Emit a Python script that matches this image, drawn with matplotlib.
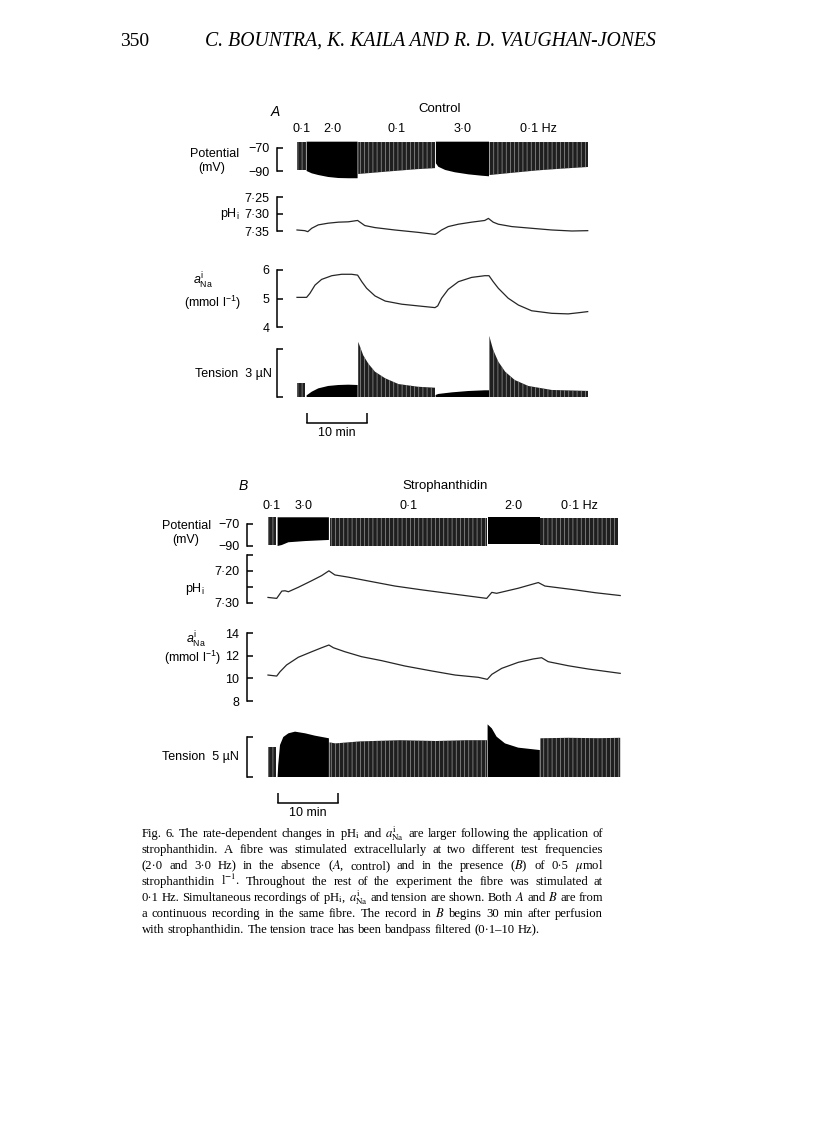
import numpy as np
import matplotlib.pyplot as plt
from matplotlib import transforms

plt.rcParams['font.family'] = 'Liberation Sans'
plt.rcParams['mathtext.fontset'] = 'custom'
plt.rcParams['mathtext.rm'] = 'Liberation Sans'
plt.rcParams['mathtext.it'] = 'Liberation Sans:italic'
plt.rcParams['mathtext.bf'] = 'Liberation Sans:bold'
plt.rcParams['hatch.linewidth'] = 0.5

W, H = 816, 1146

# ---------------- data (time in min) ----------------
# panel A, control
A_RATES = ['0·1', '2·0', '0·1', '3·0', '0·1 Hz']
A_POT_T = [[0.0, 1.45], [1.6, 2.45, 3.55, 5.2, 6.9, 8.55, 10.1], [10.2, 15.0, 20.0, 23.0],
           [23.15, 23.55, 24.7, 26.3, 28.55, 30.8, 32.0], [32.1, 36.0, 40.0, 44.0, 48.5]]
A_POT_REST = [[-89.0, -89.0], [-90.0, -92.0, -93.5, -95.2, -96.1, -96.3, -96.3], [-92.6, -90.5, -88.4, -87.5],
              [-83.3, -86.3, -89.1, -91.1, -92.9, -94.1, -94.6], [-93.5, -91.5, -89.5, -88.0, -86.5]]
A_POT_PEAK = [-64.5, -64.5, -64.8, -64.5, -64.8]

A_PH_T = [0, 1.3, 1.8, 2.45, 3.55, 5.2, 6.9, 8.55, 10.1, 10.5, 11.3, 13.0, 16.3, 20.2, 23.0, 23.3,
          24.1, 25.2, 26.9, 29.1, 31.3, 31.9, 32.7, 33.55, 35.8, 39.1, 42.45, 45.8, 48.45]
A_PH = [7.347, 7.349, 7.352, 7.342, 7.332, 7.327, 7.324, 7.323, 7.319, 7.324, 7.334, 7.340, 7.347, 7.354,
        7.360, 7.357, 7.347, 7.337, 7.330, 7.324, 7.319, 7.313, 7.324, 7.330, 7.337, 7.342, 7.347, 7.350, 7.349]

A_NA_T = [0, 1.6, 2.15, 3.0, 4.1, 5.8, 7.45, 9.1, 10.1, 10.8, 11.6, 13.0, 14.7, 17.45, 20.2, 23.0,
          23.45, 24.1, 25.2, 26.9, 29.1, 31.3, 32.0, 32.7, 33.55, 35.2, 36.9, 39.1, 42.45, 45.2, 46.9, 48.45]
A_NA = [5.04, 5.04, 5.18, 5.47, 5.67, 5.80, 5.85, 5.85, 5.82, 5.59, 5.36, 5.09, 4.91, 4.80, 4.74, 4.68,
        4.74, 5.01, 5.32, 5.59, 5.74, 5.80, 5.80, 5.59, 5.36, 5.01, 4.77, 4.57, 4.48, 4.46, 4.50, 4.54]

A_TEN_T = [[0.0, 1.4], [1.6, 2.45, 3.55, 5.2, 6.9, 8.55, 10.1],
           [10.2, 11.05, 11.9, 13.0, 14.7, 16.9, 20.2, 23.0],
           [23.1, 23.55, 25.8, 28.55, 31.3, 32.0],
           [32.05, 32.7, 33.55, 34.7, 36.3, 38.55, 42.45, 48.5]]
A_TEN = [[0.9, 0.9], [0.1, 0.33, 0.54, 0.69, 0.75, 0.77, 0.75],
         [3.45, 2.6, 2.08, 1.58, 1.17, 0.81, 0.64, 0.58],
         [0.125, 0.19, 0.29, 0.375, 0.42, 0.42],
         [3.81, 2.94, 2.21, 1.58, 1.06, 0.69, 0.44, 0.38]]

# panel B, strophanthidin
B_RATES = ['0·1', '3·0', '0·1', '2·0', '0·1 Hz']
B_POT_T = [[0.0, 1.25], [1.6, 2.3, 3.4, 6.2, 10.15], [10.25, 36.5], [36.6, 45.3], [45.4, 58.4]]
B_POT_REST = [[-89.1, -89.1], [-90.0, -89.1, -86.6, -85.5, -84.5], [-90.0, -90.0], [-88.5, -88.5], [-89.1, -89.1]]
B_POT_PEAK = [-63.9, -63.9, -64.8, -63.9, -64.8]

B_PH_T = [0, 1.45, 2.3, 2.85, 3.4, 5.05, 7.3, 8.95, 10.15, 11.15, 13.4, 16.7, 21.15, 25.6, 31.2,
          36.45, 37.3, 38.1, 41.7, 45.05, 46.15, 47.8, 51.15, 54.5, 58.7]
B_PH = [7.284, 7.287, 7.264, 7.263, 7.266, 7.252, 7.231, 7.215, 7.200, 7.213, 7.220, 7.232, 7.248,
        7.260, 7.274, 7.287, 7.268, 7.271, 7.255, 7.237, 7.248, 7.252, 7.260, 7.269, 7.278]

B_NA_T = [0, 1.45, 2.0, 3.1, 5.05, 7.3, 8.95, 10.15, 10.9, 12.8, 15.6, 18.95, 22.8, 27.3, 31.2,
          35.05, 36.55, 37.3, 38.95, 41.7, 44.2, 45.6, 46.7, 50.05, 53.4, 58.7]
B_NA = [10.29, 10.20, 10.58, 11.18, 11.86, 12.35, 12.70, 12.94, 12.70, 12.35, 11.91, 11.56, 11.09,
        10.65, 10.29, 10.09, 9.91, 10.35, 10.88, 11.41, 11.71, 11.82, 11.47, 11.11, 10.82, 10.44]

B_TEN_T = [[0.0, 1.25], [1.6, 1.7, 2.0, 2.55, 3.4, 4.5, 6.2, 7.8, 10.15],
           [10.25, 11.2, 15.3, 22.0, 28.0, 33.0, 36.5],
           [36.6, 37.3, 38.1, 39.5, 41.7, 45.3],
           [45.4, 50.0, 55.0, 58.7]]
B_TEN = [[3.8, 3.8], [0.0, 1.5, 4.0, 5.0, 5.46, 5.67, 5.46, 5.17, 4.84],
         [4.33, 4.2, 4.45, 4.6, 4.5, 4.6, 4.6],
         [6.58, 6.08, 5.04, 4.2, 3.67, 3.37],
         [4.84, 4.9, 4.85, 4.9]]

CAPTION = [
    r"Fig. 6. The rate-dependent changes in pH$_\mathrm{i}$ and $a^\mathrm{i}_\mathrm{Na}$ are larger following the application of",
    "strophanthidin. A fibre was stimulated extracellularly at two different test frequencies",
    r"(2·0 and 3·0 Hz) in the absence ($\mathit{A}$, control) and in the presence ($\mathit{B}$) of 0·5 $\mu$mol",
    r"strophanthidin l$^{-1}$. Throughout the rest of the experiment the fibre was stimulated at",
    r"0·1 Hz. Simultaneous recordings of pH$_\mathrm{i}$, $a^\mathrm{i}_\mathrm{Na}$ and tension are shown. Both $\mathit{A}$ and $\mathit{B}$ are from",
    r"a continuous recording in the same fibre. The record in $\mathit{B}$ begins 30 min after perfusion",
    "with strophanthidin. The tension trace has been bandpass filtered (0·1–10 Hz).",
]

fig = plt.figure(figsize=(W / 100, H / 100), dpi=100)
fig.patch.set_facecolor('white')


def ftext(x, y, s, **kw):
    return fig.text(x / W, 1 - y / H, s, **kw)


def make_ax(x0, x1, y0, y1, xzero, ppm, ycal):
    ax = fig.add_axes([x0 / W, 1 - y1 / H, (x1 - x0) / W, (y1 - y0) / H])
    ax.patch.set_visible(False)
    ax.set_xlim((x0 - xzero) / ppm, (x1 - xzero) / ppm)
    (ya, va), (yb, vb) = ycal
    k = (vb - va) / (yb - ya)
    ax.set_ylim(va + (y1 - ya) * k, va + (y0 - ya) * k)
    for s in ('top', 'right', 'bottom'):
        ax.spines[s].set_visible(False)
    ax.spines['left'].set_linewidth(1.1)
    ax.set_xticks([])
    ax.tick_params(axis='y', direction='in', length=4.5, width=1.1, pad=5.5, labelsize=9)
    return ax


def seg_style(rate):
    # 0.1 Hz: single twitches/APs drawn by the pen look like a dense grey comb
    if rate.startswith('0·1'):
        return dict(facecolor='0.12', edgecolor='0.6', hatch='||||', linewidth=0)
    return dict(facecolor='black', edgecolor='none', linewidth=0)


def draw_panel(g, rates, pot_t, pot_rest, pot_peak, ph_t, ph, na_t, na, ten_t, ten,
               ph_ticks, ph_labels, na_ticks, ten_max, bar_t0):
    ax_pot = make_ax(g['x0'], g['x1'], *g['pot'], g['xzero'], 6.0, g['pot_cal'])
    ax_pot.spines['left'].set_bounds(-90, -70)
    ax_pot.set_yticks([-90, -70], ['\u221290', '\u221270'])
    tr = transforms.blended_transform_factory(ax_pot.transData, fig.transFigure)
    for i, rate in enumerate(rates):
        ax_pot.fill_between(pot_t[i], pot_rest[i], pot_peak[i], **seg_style(rate))
        tc = 0.5 * (pot_t[i][0] + pot_t[i][-1])
        ax_pot.text(tc, 1 - g['rate_y'] / H, rate, transform=tr, ha='center', va='center', fontsize=9)

    ax_ph = make_ax(g['x0'], g['x1'], *g['ph'], g['xzero'], 6.0, g['ph_cal'])
    ax_ph.spines['left'].set_bounds(ph_ticks[0], ph_ticks[-1])
    ax_ph.set_yticks(ph_ticks, ph_labels)
    ax_ph.plot(ph_t, ph, color='0.15', lw=0.9)

    ax_na = make_ax(g['x0'], g['x1'], *g['na'], g['xzero'], 6.0, g['na_cal'])
    ax_na.spines['left'].set_bounds(na_ticks[0], na_ticks[-1])
    ax_na.set_yticks(na_ticks, [str(v) for v in na_ticks])
    ax_na.plot(na_t, na, color='0.15', lw=0.9)

    ax_ten = make_ax(g['x0'], g['x1'], *g['ten'], g['xzero'], 6.0, g['ten_cal'])
    ax_ten.spines['left'].set_bounds(0, ten_max)
    ax_ten.set_yticks([0, ten_max], ['', ''])
    for i, rate in enumerate(rates):
        ax_ten.fill_between(ten_t[i], 0, ten[i], **seg_style(rate))
    # 10 min scale bar
    sp = ax_ten.spines['bottom']
    sp.set_visible(True)
    sp.set_bounds(bar_t0, bar_t0 + 10)
    sp.set_position(('outward', 16.5))
    sp.set_linewidth(1.1)
    ax_ten.set_xticks([bar_t0, bar_t0 + 10], ['', ''])
    ax_ten.set_xticks([bar_t0 + 5], ['10 min'], minor=True)
    ax_ten.tick_params(axis='x', which='major', direction='in', length=7, width=1.1)
    ax_ten.tick_params(axis='x', which='minor', length=0, pad=3, labelsize=9)


GA = dict(x0=277, x1=592, xzero=297, rate_y=129,
          pot=(138, 182), pot_cal=((148, -70), (171, -90)),
          ph=(190, 240), ph_cal=((197, 7.25), (231, 7.35)),
          na=(262, 332), na_cal=((270, 6), (327, 4)),
          ten=(330, 400), ten_cal=((397, 0), (349, 3)))
GB = dict(x0=247, x1=624, xzero=268, rate_y=506,
          pot=(512, 556), pot_cal=((524, -70), (546, -90)),
          ph=(550, 610), ph_cal=((555, 7.15), (602.5, 7.30)),
          na=(626, 708), na_cal=((633, 14), (701, 8)),
          ten=(718, 780), ten_cal=((777, 0), (737, 5)))

draw_panel(GA, A_RATES, A_POT_T, A_POT_REST, A_POT_PEAK, A_PH_T, A_PH, A_NA_T, A_NA, A_TEN_T, A_TEN,
           [7.25, 7.30, 7.35], ['7·25', '7·30', '7·35'], [4, 5, 6], 3, 1.6)
draw_panel(GB, B_RATES, B_POT_T, B_POT_REST, B_POT_PEAK, B_PH_T, B_PH, B_NA_T, B_NA, B_TEN_T, B_TEN,
           [7.15, 7.20, 7.25, 7.30], ['', '7·20', '', '7·30'], [8, 10, 12, 14], 5, 1.7)

# panel titles and row labels
ftext(275, 112, 'A', fontsize=10, style='italic', ha='center', va='center')
ftext(440, 109, 'Control', fontsize=9.5, ha='center', va='center')
ftext(239, 154, 'Potential', fontsize=9, ha='right', va='center')
ftext(212, 168, '(mV)', fontsize=9, ha='center', va='center')
ftext(240, 214, r'pH$_\mathrm{i}$', fontsize=9, ha='right', va='center')
ftext(203, 281, r'$a^\mathrm{i}_\mathrm{Na}$', fontsize=9, ha='center', va='center')
ftext(212, 303, r'(mmol l$^{-1}$)', fontsize=9, ha='center', va='center')
ftext(272, 374, 'Tension  3 \u00b5N', fontsize=9, ha='right', va='center')

ftext(243, 486, 'B', fontsize=10, style='italic', ha='center', va='center')
ftext(445, 486, 'Strophanthidin', fontsize=9.5, ha='center', va='center')
ftext(211, 526, 'Potential', fontsize=9, ha='right', va='center')
ftext(186, 540, '(mV)', fontsize=9, ha='center', va='center')
ftext(205, 589, r'pH$_\mathrm{i}$', fontsize=9, ha='right', va='center')
ftext(196, 640, r'$a^\mathrm{i}_\mathrm{Na}$', fontsize=9, ha='center', va='center')
ftext(192, 658, r'(mmol l$^{-1}$)', fontsize=9, ha='center', va='center')
ftext(239, 757, 'Tension  5 \u00b5N', fontsize=9, ha='right', va='center')

# running header
ftext(120, 46, '350', fontsize=14, family='Liberation Serif', va='baseline')
ftext(205, 46, 'C. BOUNTRA, K. KAILA AND R. D. VAUGHAN-JONES', fontsize=14.2,
      family='Liberation Serif', style='italic', va='baseline')

# justified caption
renderer = fig.canvas.get_renderer()
left, right = 142, 603
for i, line in enumerate(CAPTION):
    words = line.split(' ')
    y = 837 + 16 * i
    texts = [ftext(left, y, w, fontsize=9.1, family='Liberation Serif', math_fontfamily='stix',
                   va='baseline') for w in words]
    widths = [t.get_window_extent(renderer).width for t in texts]
    if i == len(CAPTION) - 1:
        gap = 3.2
    else:
        gap = max(2.0, (right - left - sum(widths)) / (len(words) - 1))
    x = left
    for t, w in zip(texts, widths):
        t.set_x(x / W)
        x += w + gap

fig.savefig('out.png', dpi=100, facecolor='white')
